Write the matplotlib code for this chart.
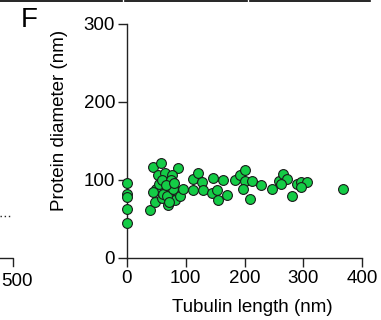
import matplotlib
matplotlib.use("Agg")
import matplotlib.pyplot as plt
from matplotlib.lines import Line2D

plt.rcParams['font.family'] = ['Liberation Sans', 'DejaVu Sans']

# Data: tubulin length (nm) vs protein diameter (nm)
tubulin_length = [
    0, 0, 0, 0, 0,
    45, 58, 87, 53, 65, 76, 50, 65, 73, 83, 39, 48, 59, 70, 82,
    55, 60, 70, 75, 62, 68, 78, 90, 44, 72, 66, 80,
    96, 113, 121, 127, 147, 164, 113, 130, 144, 153, 155, 170,
    184, 192, 201, 201, 212, 197, 228, 209,
    246, 258, 266, 272, 262, 280, 289, 297, 306, 297, 368,
]
protein_diameter = [
    96, 82, 78, 63, 45,
    117, 122, 115, 106, 109, 106, 89, 87, 94, 86, 62, 72, 77, 68, 74,
    95, 100, 90, 100, 82, 80, 88, 80, 84, 72, 93, 96,
    89, 101, 109, 98, 102, 100, 87, 87, 83, 87, 74, 81,
    100, 106, 113, 99, 99, 89, 93, 76,
    88, 99, 108, 101, 95, 79, 95, 97, 98, 91, 88,
]

x_ticks = [0, 100, 200, 300, 400]
y_ticks = [0, 100, 200, 300]

W, H = 381, 320
fig = plt.figure(figsize=(W / 100, H / 100), dpi=100)

ax_left, ax_right, ax_bottom, ax_top = 127, 362, 258, 24
ax = fig.add_axes([ax_left / W, (H - ax_bottom) / H,
                   (ax_right - ax_left) / W, (ax_bottom - ax_top) / H])

ax.scatter(tubulin_length, protein_diameter, s=50, color='#14cc46',
           edgecolors='#1a1a1a', linewidths=0.8, clip_on=False, zorder=3)

ax.set_xlim(0, 400)
ax.set_ylim(0, 300)
ax.set_xticks(x_ticks)
ax.set_yticks(y_ticks)
ax.spines['top'].set_visible(False)
ax.spines['right'].set_visible(False)
for s in ('left', 'bottom'):
    ax.spines[s].set_linewidth(1.0)
    ax.spines[s].set_color('#222222')
ax.tick_params(axis='both', direction='out', length=6.5, width=1.0,
               labelsize=13.5, colors='#222222', labelcolor='black', pad=2)

ax.set_xlabel('Tubulin length (nm)', fontsize=13.5)
ax.set_ylabel('Protein diameter (nm)', fontsize=13.5)
ax.xaxis.set_label_coords((252 - ax_left) / (ax_right - ax_left),
                          (ax_bottom - 308) / (ax_bottom - ax_top), transform=ax.transAxes)
ax.yaxis.set_label_coords((60 - ax_left) / (ax_right - ax_left),
                          (ax_bottom - 120) / (ax_bottom - ax_top), transform=ax.transAxes)
ax.xaxis.label.set_va('center')
ax.yaxis.label.set_va('center')

# Panel label
fig.text(29 / W, 1 - 20 / H, 'F', fontsize=20, ha='center', va='center')

# Remnants of neighbouring panels (cropped figure)
def fx(p):
    return p / W

def fy(p):
    return 1 - p / H

for x0, x1 in [(0, 122), (125, 247), (250, 370)]:
    fig.add_artist(Line2D([fx(x0), fx(x1)], [fy(0.8), fy(0.8)],
                          color='black', linewidth=1.2))
fig.add_artist(Line2D([fx(0), fx(13), fx(13)], [fy(258), fy(258), fy(266)],
                      color='#222222', linewidth=1.0))
fig.text(fx(1), fy(282), '500', fontsize=13.5, ha='left', va='center')
fig.add_artist(Line2D([fx(0), fx(12)], [fy(216), fy(216)],
                      color='#222222', linewidth=1.0, linestyle=(0, (1, 2))))

fig.savefig('out.png', dpi=100)
